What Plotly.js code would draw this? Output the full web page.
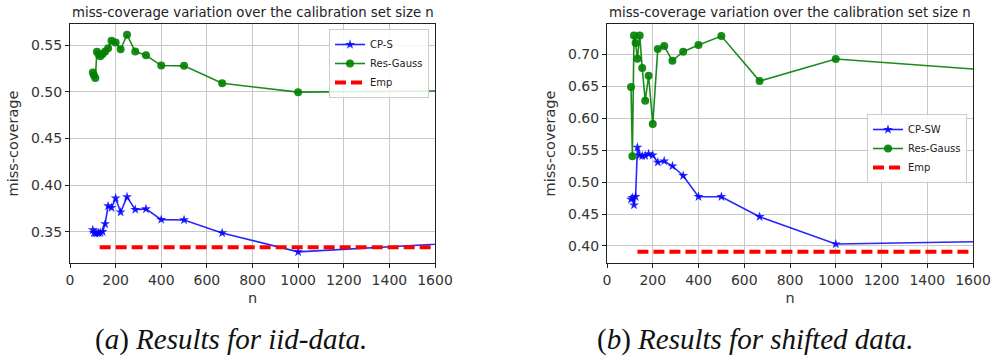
<!DOCTYPE html>
<html>
<head>
<meta charset="utf-8">
<script src="https://cdn.plot.ly/plotly-3.0.1.min.js"></script>
<style>
html, body { margin: 0; padding: 0; background: #ffffff; }
#chart { width: 995px; height: 358px; }
</style>
</head>
<body>
<div id="chart"></div>
<script>
// ---------- data ----------
const titleText = "miss-coverage variation over the calibration set size n";

// (a) iid data
const nA = [100, 105, 111, 118, 125, 133, 143, 154, 167, 182, 200, 222, 250, 286, 333, 400, 500, 667, 1000, 2000];
const cpsA = [0.3519, 0.3490, 0.3484, 0.3487, 0.3487, 0.3490, 0.3500, 0.3584, 0.3776, 0.3758, 0.3859, 0.3709, 0.3873, 0.3737, 0.3744, 0.3630, 0.3626, 0.3487, 0.3284, 0.3421];
const gaussA = [0.5206, 0.5175, 0.5147, 0.5428, 0.5400, 0.5380, 0.5404, 0.5430, 0.5465, 0.5545, 0.5527, 0.5455, 0.5610, 0.5430, 0.5390, 0.5280, 0.5277, 0.5090, 0.4995, 0.5015];
const empNA = [130, 2000];
const empA = [0.3335, 0.3335];

// (b) shifted data
const nB = [105, 111, 118, 125, 133, 143, 154, 167, 182, 200, 222, 250, 286, 333, 400, 500, 667, 1000, 2000];
const cpswB = [0.4730, 0.4755, 0.4640, 0.4770, 0.5540, 0.5420, 0.5406, 0.5410, 0.5438, 0.5420, 0.5308, 0.5328, 0.5250, 0.5098, 0.4770, 0.4770, 0.4458, 0.4031, 0.4091];
const gaussB = [0.6484, 0.5402, 0.7292, 0.7172, 0.6927, 0.7292, 0.6781, 0.6270, 0.6661, 0.5906, 0.7078, 0.7125, 0.6895, 0.7036, 0.7141, 0.7281, 0.6578, 0.6922, 0.6663];
const empNB = [133, 2000];
const empB = [0.3911, 0.3911];

const xTicks = [0, 200, 400, 600, 800, 1000, 1200, 1400, 1600];
const yTicksA = [0.35, 0.40, 0.45, 0.50, 0.55];
const yTicksB = [0.40, 0.45, 0.50, 0.55, 0.60, 0.65, 0.70];

const captionA = "(<i>a</i>) <i>Results for iid-data.</i>";
const captionB = "(<i>b</i>) <i>Results for shifted data.</i>";

// ---------- styling ----------
const W = 995, H = 358;
const px = x => x / W;
const py = y => 1 - y / H;
const BLUE = "rgba(0,0,255,0.85)";
const GREEN = "rgba(0,128,0,0.9)";
const RED = "#ff0000";
const FONT = "DejaVu Sans, sans-serif";

function lineTrace(x, y, name, color, symbol, size, xa, ya, legend) {
  return {
    x: x, y: y, name: name, type: "scatter", mode: "lines+markers",
    xaxis: xa, yaxis: ya, legend: legend, cliponaxis: true,
    line: { color: color, width: 1.6 },
    marker: { color: color, symbol: symbol, size: size, line: { width: 0 } }
  };
}
function empTrace(x, y, xa, ya, legend) {
  return {
    x: x, y: y, name: "Emp", type: "scatter", mode: "lines",
    xaxis: xa, yaxis: ya, legend: legend,
    line: { color: RED, width: 4, dash: "11px,5px" }
  };
}

const traces = [
  lineTrace(nA, cpsA, "CP-S", BLUE, "star", 7.5, "x", "y", "legend"),
  lineTrace(nA, gaussA, "Res-Gauss", GREEN, "circle", 8, "x", "y", "legend"),
  empTrace(empNA, empA, "x", "y", "legend"),
  lineTrace(nB, cpswB, "CP-SW", BLUE, "star", 7.5, "x2", "y2", "legend2"),
  lineTrace(nB, gaussB, "Res-Gauss", GREEN, "circle", 8, "x2", "y2", "legend2"),
  empTrace(empNB, empB, "x2", "y2", "legend2")
];

function xAxis(domain, anchor) {
  return {
    domain: domain, anchor: anchor, range: [0, 1600], tickvals: xTicks,
    showline: true, mirror: true, linecolor: "#222", linewidth: 1,
    ticks: "outside", ticklen: 4, tickcolor: "#222", tickwidth: 1,
    showgrid: true, gridcolor: "#c8c8c8", gridwidth: 1, zeroline: false,
    tickfont: { family: FONT, size: 14, color: "#333" },
    title: { text: "n", font: { family: FONT, size: 14.5, color: "#333" }, standoff: 6 }
  };
}
function yAxis(domain, anchor, range, ticks) {
  return {
    domain: domain, anchor: anchor, range: range, tickvals: ticks, tickformat: ".2f",
    showline: true, mirror: true, linecolor: "#222", linewidth: 1,
    ticks: "outside", ticklen: 4, tickcolor: "#222", tickwidth: 1,
    showgrid: true, gridcolor: "#c8c8c8", gridwidth: 1, zeroline: false,
    tickfont: { family: FONT, size: 14, color: "#333" },
    title: { text: "miss-coverage", font: { family: FONT, size: 14.5, color: "#333" }, standoff: 8 }
  };
}

const yDom = [py(263), py(24)];
const legendStyle = {
  bgcolor: "rgba(255,255,255,0.85)", bordercolor: "#cccccc", borderwidth: 1,
  font: { family: FONT, size: 10, color: "#222" },
  xref: "paper", yref: "paper", xanchor: "right", yanchor: "top",
  tracegroupgap: 0, itemwidth: 30
};

const layout = {
  width: W, height: H,
  margin: { l: 0, r: 0, t: 0, b: 0 },
  paper_bgcolor: "#ffffff", plot_bgcolor: "#ffffff",
  showlegend: true,
  xaxis: xAxis([px(70), px(435)], "y"),
  yaxis: yAxis(yDom, "x", [0.3165, 0.5725], yTicksA),
  xaxis2: xAxis([px(607), px(973)], "y2"),
  yaxis2: yAxis(yDom, "x2", [0.3734, 0.747], yTicksB),
  legend: Object.assign({}, legendStyle, { x: px(429), y: py(29) }),
  legend2: Object.assign({}, legendStyle, { x: px(967), y: py(114) }),
  annotations: [
    { text: titleText, xref: "paper", yref: "paper", x: px(252.5), y: py(13), xanchor: "center", yanchor: "middle",
      showarrow: false, font: { family: FONT, size: 13.3, color: "#222" } },
    { text: titleText, xref: "paper", yref: "paper", x: px(790), y: py(13), xanchor: "center", yanchor: "middle",
      showarrow: false, font: { family: FONT, size: 13.3, color: "#222" } },
    { text: captionA, xref: "paper", yref: "paper", x: px(231), y: py(339), xanchor: "center", yanchor: "middle",
      showarrow: false, font: { family: "Liberation Serif, serif", size: 29, color: "#111" } },
    { text: captionB, xref: "paper", yref: "paper", x: px(755), y: py(339), xanchor: "center", yanchor: "middle",
      showarrow: false, font: { family: "Liberation Serif, serif", size: 29, color: "#111" } }
  ]
};

Plotly.newPlot("chart", traces, layout, { staticPlot: true, displayModeBar: false });
</script>
</body>
</html>
